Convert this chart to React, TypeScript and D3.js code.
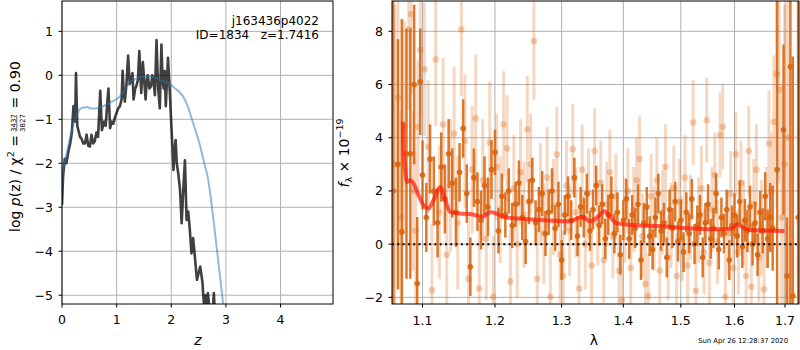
import * as d3 from "d3";

// left panel: log p(z)
const zGrid = [0.00, 0.02, 0.05, 0.08, 0.115, 0.15, 0.18, 0.21, 0.24, 0.256, 0.28, 0.31, 0.33, 0.36, 0.39, 0.42, 0.45, 0.48, 0.51, 0.54, 0.57, 0.60, 0.63, 0.66, 0.70, 0.73, 0.77, 0.80, 0.83, 0.85, 0.88, 0.91, 0.94, 0.97, 1.00, 1.03, 1.06, 1.09, 1.11, 1.13, 1.15, 1.18, 1.21, 1.24, 1.27, 1.29, 1.31, 1.34, 1.36, 1.39, 1.415, 1.45, 1.48, 1.51, 1.53, 1.55, 1.57, 1.60, 1.63, 1.65, 1.67, 1.70, 1.73, 1.76, 1.79, 1.82, 1.84, 1.86, 1.88, 1.90, 1.94, 1.97, 2.00, 2.02, 2.04, 2.06, 2.08, 2.10, 2.13, 2.16, 2.19, 2.22, 2.25, 2.28, 2.31, 2.34, 2.37, 2.40, 2.43, 2.47, 2.50, 2.53, 2.57, 2.60, 2.63, 2.65, 2.67, 2.70, 2.73, 2.76, 2.78, 2.80];
const logPz = [-2.95, -2.3, -1.9, -2.0, -1.75, -1.55, -1.3, -0.7, -1.05, 0.05, -1.15, -1.3, -1.4, -1.45, -1.55, -1.55, -1.35, -1.6, -1.62, -1.35, -1.55, -1.5, -1.3, -1.4, -0.35, -1.25, -1.05, -1.15, -0.6, -0.3, -1.2, -1.05, -1.1, -0.95, -0.85, -0.75, -0.7, -0.55, 0.1, -0.4, -0.6, -0.2, 0.45, -0.2, -0.1, 0.05, -0.55, -0.3, -0.25, -0.1, 0.55, -0.4, 0.3, -0.2, -0.55, -0.15, 0.0, -0.3, -0.25, 0.0, -0.05, -0.45, 0.8, -0.3, -0.75, 0.7, -0.1, -0.3, 0.1, -0.7, 0.4, -0.3, -1.1, -1.6, -2.15, -1.7, -1.47, -2.0, -2.25, -2.6, -3.36, -2.6, -1.93, -3.29, -3.1, -3.52, -4.05, -3.7, -4.1, -4.65, -4.5, -4.35, -4.7, -5.25, -5.0, -5.3, -4.95, -5.3, -5.25, -5.3, -4.95, -5.5];
const zTemplate = [0, 0.02, 0.08, 0.15, 0.21, 0.27, 0.32, 0.36, 0.42, 0.47, 0.51, 0.57, 0.64, 0.70, 0.76, 0.84, 0.91, 0.99, 1.06, 1.12, 1.18, 1.26, 1.35, 1.43, 1.50, 1.58, 1.65, 1.73, 1.82, 1.92, 2.00, 2.07, 2.15, 2.22, 2.30, 2.40, 2.47, 2.53, 2.60, 2.68, 2.74, 2.83, 2.92, 2.96];
const logPzTemplate = [-2.6, -2.2, -1.8, -1.4, -1.1, -0.9, -0.78, -0.74, -0.73, -0.72, -0.75, -0.76, -0.75, -0.73, -0.7, -0.65, -0.6, -0.55, -0.48, -0.38, -0.26, -0.15, -0.08, -0.04, -0.02, -0.02, -0.03, -0.07, -0.12, -0.16, -0.22, -0.3, -0.38, -0.49, -0.7, -1.09, -1.35, -1.62, -1.98, -2.4, -2.95, -3.9, -4.88, -5.3];

// right panel: spectrum points [lambda, flux, err]
const faintPoints = [
  [1.064, 3.0, 6], [1.068, 5.5, 5], [1.072, 1.0, 4], [1.076, 4.4, 4], [1.082, 8.07, 3], [1.085, 8.65, 3], [1.088, 2.0, 3], [1.091, 0.5, 3], [1.094, 4.4, 2.5], [1.097, 7.3, 2.5],
  [1.1025, 6.57, 2.5], [1.1075, 3.66, 2.5], [1.1125, -1.73, 2.5], [1.1175, 6.94, 2.5], [1.1225, 1.2, 2.5], [1.1275, 4.5, 2.5], [1.1325, -0.4, 2.5], [1.1375, 2.2, 2.5], [1.1425, 4.16, 2.5], [1.1475, 0.8, 2.5],
  [1.1525, 8.07, 2.5], [1.1575, 3.87, 2.5], [1.1625, -1.3, 2.4], [1.1675, 2.8, 2.4], [1.1725, 4.72, 2.4], [1.1775, -1.67, 2.4], [1.1825, 2.4, 2.3], [1.1875, 0.2, 2.3], [1.1925, 3.82, 2.3], [1.1975, -1.98, 2.3],
  [1.2025, 2.9, 2.0], [1.2075, 1.3, 2.0], [1.2125, 4.5, 2.0], [1.2175, 3.6, 2.0], [1.2225, -1.4, 2.0], [1.2275, 2.1, 2.0], [1.2325, 0.0, 2.0], [1.2375, 2.7, 2.0], [1.2425, 1.1, 2.0], [1.2475, 4.32, 2.0],
  [1.2525, 3.0, 1.9], [1.2575, 7.63, 2.2], [1.2625, -1.3, 1.9], [1.2675, 1.9, 1.9], [1.2725, 0.4, 1.9], [1.2775, 2.5, 1.9], [1.2825, -1.98, 1.9], [1.2875, 1.4, 1.8], [1.2925, 3.37, 1.8], [1.2975, -0.4, 1.8],
  [1.3025, -1.2, 1.7], [1.3075, 2.2, 1.7], [1.3125, 0.5, 1.7], [1.3175, 3.57, 1.7], [1.3225, 1.2, 1.7], [1.3275, -1.67, 1.7], [1.3325, 2.8, 1.7], [1.3375, 0.0, 1.7], [1.3425, 1.9, 1.7], [1.3475, -0.8, 1.7],
  [1.3525, 3.5, 1.6], [1.3575, 0.8, 1.6], [1.3625, 2.3, 1.6], [1.3675, -0.6, 1.6], [1.3725, 1.5, 1.6], [1.3775, 2.7, 1.6], [1.3825, 0.3, 1.6], [1.3875, 1.8, 1.6], [1.3925, -1.0, 1.6], [1.3975, -2.1, 1.6],
  [1.4025, 0.9, 1.6], [1.4075, 2.0, 1.6], [1.4125, -0.9, 1.6], [1.4175, 1.3, 1.6], [1.4225, 2.4, 1.6], [1.4275, 3.2, 1.6], [1.4325, 0.3, 1.6], [1.4375, -1.5, 1.6], [1.4425, -1.95, 1.6], [1.4475, 1.8, 1.6],
  [1.4525, 0.6, 1.6], [1.4575, 2.4, 1.6], [1.4625, -1.0, 1.6], [1.4675, 1.2, 1.6], [1.4725, 2.9, 1.6], [1.4775, -0.5, 1.6], [1.4825, 0.7, 1.6], [1.4875, 2.1, 1.6], [1.4925, -1.2, 1.6], [1.4975, 1.6, 1.6],
  [1.5025, 0.2, 1.6], [1.5075, 2.5, 1.6], [1.5125, -0.8, 1.6], [1.5175, 1.0, 1.6], [1.5225, 4.57, 1.6], [1.5275, -1.75, 1.6], [1.5325, 0.9, 1.6], [1.5375, 2.1, 1.6], [1.5425, -0.3, 1.6], [1.5475, 4.66, 1.6],
  [1.5525, -0.7, 1.6], [1.5575, 1.3, 1.6], [1.5625, 2.6, 1.6], [1.5675, 0.1, 1.6], [1.5725, 4.1, 1.6], [1.5775, 4.41, 1.6], [1.5825, -1.98, 1.6], [1.5875, 0.4, 1.6], [1.5925, 1.9, 1.6], [1.5975, -0.9, 1.6],
  [1.6025, 3.38, 1.6], [1.6075, -0.3, 1.6], [1.6125, 2.3, 1.6], [1.6175, 0.8, 1.6], [1.6225, -1.2, 1.6], [1.6275, 3.5, 1.7], [1.6325, -1.6, 1.7], [1.6375, 1.5, 1.7], [1.6425, 2.8, 1.7], [1.6475, -0.5, 1.7],
  [1.6525, 0.6, 1.8], [1.6575, -1.7, 1.8], [1.6625, 1.0, 1.9], [1.6675, 3.78, 2.0], [1.6725, 2.0, 2.2], [1.6775, 4.6, 2.5],
  [1.683, 6.4, 3], [1.688, 5.8, 3.5], [1.693, 1.0, 5], [1.699, 3.0, 6], [1.705, 4.0, 8],
];

const darkPoints = [
  [1.062, 2.0, 9], [1.068, 3.0, 4.7], [1.073, 0.46, 8], [1.079, 3.4, 4.7], [1.084, 3.4, 4.7], [1.089, 6.0, 3.0], [1.093, -1.48, 2.5], [1.097, 6.1, 2.0],
  [1.100, 2.6, 1.3], [1.105, 1.0, 1.3], [1.110, 3.2, 1.3], [1.115, 2.0, 1.3], [1.120, 0.8, 1.3], [1.125, 2.9, 1.3], [1.130, 1.7, 1.3], [1.135, 3.4, 1.3], [1.140, 2.3, 1.3], [1.145, 1.2, 1.3],
  [1.150, 2.7, 1.1], [1.155, 4.35, 1.1], [1.160, 1.9, 1.1], [1.165, -0.85, 1.1], [1.170, 2.5, 1.1], [1.175, 1.6, 1.1], [1.180, 0.9, 1.1], [1.185, 2.2, 1.1], [1.190, 1.4, 1.1], [1.195, 2.8, 1.1],
  [1.200, 3.45, 0.85], [1.205, 0.5, 0.85], [1.210, 1.8, 0.85], [1.215, 1.1, 0.85], [1.220, 2.0, 0.85], [1.225, 0.7, 0.85], [1.230, 1.5, 0.85], [1.235, 2.3, 0.85], [1.240, 1.0, 0.85], [1.245, 0.1, 0.85],
  [1.250, 1.6, 0.85], [1.255, 2.4, 0.85], [1.260, 0.8, 0.85], [1.265, 1.3, 0.85], [1.270, 1.9, 0.85], [1.275, 0.4, 0.85], [1.280, 1.2, 0.85], [1.285, 2.0, 0.85], [1.290, 0.6, 0.85], [1.295, 1.5, 0.85],
  [1.300, -0.6, 0.75], [1.305, 1.1, 0.75], [1.310, 1.8, 0.75], [1.315, 0.9, 0.75], [1.320, 2.5, 0.75], [1.325, 0.3, 0.75], [1.330, 1.4, 0.75], [1.335, 1.0, 0.75], [1.340, 1.9, 0.75], [1.345, 0.5, 0.75],
  [1.350, 1.3, 0.75], [1.355, 2.2, 0.75], [1.360, 0.7, 0.75], [1.365, 1.5, 0.75], [1.370, 0.2, 0.75], [1.375, 1.1, 0.75], [1.380, 1.8, 0.75], [1.385, 0.4, 0.75], [1.390, 1.2, 0.75], [1.395, -0.4, 0.75],
  [1.400, 0.9, 0.75], [1.405, 1.7, 0.75], [1.410, 0.2, 0.75], [1.415, 1.1, 0.75], [1.420, 0.6, 0.75], [1.425, 1.5, 0.75], [1.430, -0.6, 0.75], [1.435, 0.8, 0.75], [1.440, 1.4, 0.75], [1.445, 0.3, 0.75],
  [1.450, -0.2, 0.75], [1.455, 1.0, 0.75], [1.460, 1.9, 0.75], [1.465, 0.5, 0.75], [1.470, 0.8, 0.75], [1.475, -0.5, 0.75], [1.480, 1.3, 0.75], [1.485, 0.6, 0.75], [1.490, 1.6, 0.75], [1.495, 0.1, 0.75],
  [1.500, 0.9, 0.75], [1.505, -0.3, 0.75], [1.510, 1.2, 0.75], [1.515, 0.4, 0.75], [1.520, 1.7, 0.75], [1.525, 0.0, 0.75], [1.530, 0.7, 0.75], [1.535, 1.1, 0.75], [1.540, -0.5, 0.75], [1.545, 0.8, 0.75],
  [1.550, 1.5, 0.75], [1.555, 0.2, 0.75], [1.560, 0.6, 0.75], [1.565, 1.9, 0.75], [1.570, -0.2, 0.75], [1.575, 1.0, 0.75], [1.580, 0.4, 0.75], [1.585, 1.3, 0.75], [1.590, -0.6, 0.75], [1.595, 0.7, 0.75],
  [1.600, 1.1, 0.8], [1.605, 0.3, 0.8], [1.610, 1.6, 0.8], [1.615, -0.1, 0.8], [1.620, 0.9, 0.8], [1.625, 0.5, 0.8], [1.630, 1.4, 0.8], [1.635, 0.0, 0.8], [1.640, 0.8, 0.8], [1.645, -0.4, 0.8],
  [1.650, 1.2, 0.8], [1.655, 0.5, 0.85], [1.660, 1.8, 0.9], [1.665, 0.2, 1.1], [1.670, 1.0, 1.3], [1.675, 0.6, 1.6],
  [1.684, 2.8, 9], [1.697, 4.3, 3.2], [1.704, -1.2, 2.2], [1.711, 6.67, 9], [1.716, -1.95, 9], [1.727, 1.0, 9],
];

const lamModel = [1.0745, 1.0753, 1.0773, 1.0795, 1.0839, 1.0882, 1.0947, 1.1013, 1.1079, 1.1146, 1.1236, 1.1304, 1.1372, 1.1511, 1.1652, 1.1818, 1.1939, 1.2037, 1.2161, 1.2493, 1.313, 1.3317, 1.345, 1.358, 1.369, 1.378, 1.389, 1.422, 1.463, 1.504, 1.566, 1.594, 1.600, 1.607, 1.616, 1.629, 1.699];
const fluxModel = [4.6, 3.53, 2.78, 2.34, 2.4, 2.28, 1.84, 1.47, 1.34, 1.65, 2.15, 1.65, 1.21, 1.15, 1.13, 1.03, 1.21, 1.13, 1.0, 0.94, 0.86, 1.03, 0.86, 1.03, 1.24, 1.03, 0.78, 0.71, 0.68, 0.61, 0.56, 0.58, 0.68, 0.75, 0.63, 0.53, 0.49];

const zTicks = [0, 1, 2, 3, 4];
const pzTicks = [-5, -4, -3, -2, -1, 0, 1];
const lamTicks = [1.1, 1.2, 1.3, 1.4, 1.5, 1.6, 1.7];
const fluxTicks = [-2, 0, 2, 4, 6, 8];

const FONT = "DejaVu Sans";
const GRID = "#b0b0b0";
const ORANGE = "#d9650f";

const fmt = (v: number) => (v < 0 ? "\u2212" + Math.abs(v) : String(v));

export default function App() {
  const top = 1, bottom = 304;
  const xz = d3.scaleLinear().domain([0, 4.96]).range([62, 333]);
  const yz = d3.scaleLinear().domain([-5.2, 1.69]).range([bottom, top]);
  const xl = d3.scaleLog().domain([1.0604, 1.7288]).range([392, 799]);
  const yf = d3.scaleLinear().domain([-2.25, 9.14]).range([bottom, top]);

  const pzLine = d3.line<number>().x((_, i) => xz(zGrid[i])).y((d) => yz(d));
  const tplLine = d3.line<number>().x((_, i) => xz(zTemplate[i])).y((d) => yz(d)).curve(d3.curveMonotoneX);
  const modelLine = d3.line<number>().x((_, i) => xl(lamModel[i])).y((d) => yf(d)).curve(d3.curveMonotoneX);

  const [lx0, lx1] = xz.range();
  const [rx0, rx1] = xl.range();

  return (
    <svg width={800} height={350} style={{ position: "absolute", left: 0, top: 0 }} fontFamily={FONT}>
      <defs>
        <clipPath id="clipL"><rect x={lx0} y={top} width={lx1 - lx0} height={bottom - top} /></clipPath>
        <clipPath id="clipR"><rect x={rx0} y={top} width={rx1 - rx0} height={bottom - top} /></clipPath>
      </defs>
      <rect width={800} height={350} fill="#fff" />

      {/* left panel */}
      <g>
        {zTicks.map((t) => (
          <line key={"gz" + t} x1={xz(t)} x2={xz(t)} y1={top} y2={bottom} stroke={GRID} strokeWidth={1} />
        ))}
        {pzTicks.map((t) => (
          <line key={"gp" + t} x1={lx0} x2={lx1} y1={yz(t)} y2={yz(t)} stroke={GRID} strokeWidth={1} />
        ))}
        <g clipPath="url(#clipL)">
          <path d={pzLine(logPz) || ""} fill="none" stroke="#000" strokeOpacity={0.75} strokeWidth={2.6} strokeLinejoin="round" />
          <path d={tplLine(logPzTemplate) || ""} fill="none" stroke="#1f77b4" strokeOpacity={0.5} strokeWidth={2} />
        </g>
        <rect x={lx0} y={top} width={lx1 - lx0} height={bottom - top} fill="none" stroke="#000" strokeWidth={1} />
        {zTicks.map((t) => (
          <g key={"tz" + t}>
            <line x1={xz(t)} x2={xz(t)} y1={bottom} y2={bottom + 3.5} stroke="#000" />
            <text x={xz(t)} y={bottom + 20} fontSize={12.5} textAnchor="middle">{fmt(t)}</text>
          </g>
        ))}
        {pzTicks.map((t) => (
          <g key={"tp" + t}>
            <line x1={lx0 - 3.5} x2={lx0} y1={yz(t)} y2={yz(t)} stroke="#000" />
            <text x={lx0 - 9} y={yz(t) + 4.5} fontSize={12.5} textAnchor="end">{fmt(t)}</text>
          </g>
        ))}
        <text x={198} y={345} fontSize={14} fontStyle="italic" textAnchor="middle">z</text>
        <text x={319} y={25} fontSize={12} textAnchor="end">j163436p4022</text>
        <text x={319} y={39} fontSize={12} textAnchor="end" xmlSpace="preserve">ID=1834   z=1.7416</text>
        <g transform="translate(20,232) rotate(-90)">
          <text x={0} y={0} fontSize={14} xmlSpace="preserve">
            log <tspan fontStyle="italic">p</tspan>(z) / χ<tspan fontSize={9.5} dy={-6}>2</tspan><tspan dy={6}> = </tspan>
          </text>
          <text x={109} y={-4.5} fontSize={7} textAnchor="middle">3437</text>
          <text x={109} y={4.5} fontSize={7} textAnchor="middle">3827</text>
          <line x1={101} x2={117} y1={-3.2} y2={-3.2} stroke="#000" strokeWidth={0.6} />
          <text x={119} y={0} fontSize={14} xmlSpace="preserve"> = 0.90</text>
        </g>
      </g>

      {/* right panel */}
      <g>
        {lamTicks.map((t) => (
          <line key={"gl" + t} x1={xl(t)} x2={xl(t)} y1={top} y2={bottom} stroke={GRID} strokeWidth={1} />
        ))}
        {fluxTicks.map((t) => (
          <line key={"gf" + t} x1={rx0} x2={rx1} y1={yf(t)} y2={yf(t)} stroke={GRID} strokeWidth={1} />
        ))}
        <g clipPath="url(#clipR)">
          <g opacity={0.25}>
            {faintPoints.map(([l, f, e], i) => (
              <line key={"fp" + i} x1={xl(l)} x2={xl(l)} y1={yf(f - e)} y2={yf(f + e)} stroke={ORANGE} strokeWidth={3} />
            ))}
          </g>
          {faintPoints.map(([l, f], i) => (
            <circle key={"fc" + i} cx={xl(l)} cy={yf(f)} r={3.3} fill={ORANGE} fillOpacity={0.3} />
          ))}
          {darkPoints.map(([l, f, e], i) => (
            <line key={"dp" + i} x1={xl(l)} x2={xl(l)} y1={yf(f - e)} y2={yf(f + e)} stroke={ORANGE} strokeOpacity={0.88} strokeWidth={2.5} />
          ))}
          {darkPoints.map(([l, f], i) => (
            <circle key={"dc" + i} cx={xl(l)} cy={yf(f)} r={2.8} fill={ORANGE} fillOpacity={0.9} />
          ))}
          <path d={modelLine(fluxModel) || ""} fill="none" stroke="#ff1a0a" strokeOpacity={0.7} strokeWidth={4} strokeLinejoin="round" />
          <line x1={rx0} x2={rx1} y1={yf(0)} y2={yf(0)} stroke="#000" strokeWidth={2} strokeDasharray="2,3.3" />
        </g>
        <rect x={rx0} y={top} width={rx1 - rx0} height={bottom - top} fill="none" stroke="#000" strokeWidth={1} />
        {lamTicks.map((t) => (
          <g key={"tl" + t}>
            <line x1={xl(t)} x2={xl(t)} y1={bottom} y2={bottom + 3.5} stroke="#000" />
            <text x={xl(t)} y={bottom + 21} fontSize={12.5} textAnchor="middle">{t.toFixed(1)}</text>
          </g>
        ))}
        {fluxTicks.map((t) => (
          <g key={"tf" + t}>
            <line x1={rx0 - 3.5} x2={rx0} y1={yf(t)} y2={yf(t)} stroke="#000" />
            <text x={rx0 - 9} y={yf(t) + 4.5} fontSize={12.5} textAnchor="end">{fmt(t)}</text>
          </g>
        ))}
        <text x={594} y={345} fontSize={14} textAnchor="middle">λ</text>
        <text transform="translate(349,153) rotate(-90)" fontSize={14} textAnchor="middle" xmlSpace="preserve">
          <tspan fontStyle="italic">f</tspan><tspan fontSize={9.5} dy={3}>λ</tspan><tspan dy={-3}> × 10</tspan><tspan fontSize={9.5} dy={-6}>−19</tspan>
        </text>
        <text x={788} y={343} fontSize={6.8} textAnchor="end">Sun Apr 26 12:28:37 2020</text>
      </g>
    </svg>
  );
}
